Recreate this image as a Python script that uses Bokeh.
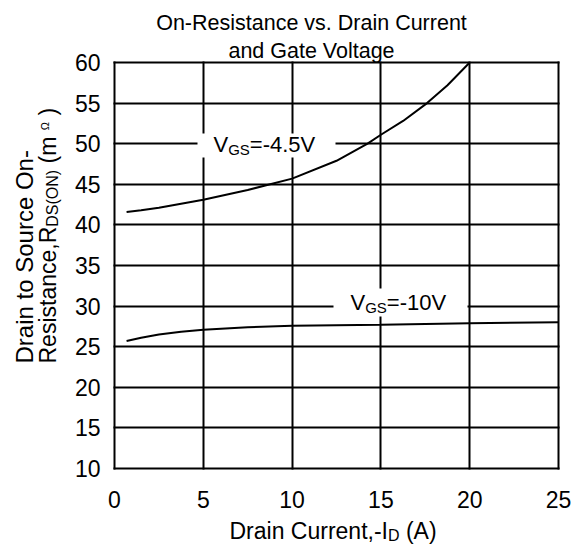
import math
from bokeh.plotting import figure
from bokeh.models import Range1d, FixedTicker, Label, BoxAnnotation
from bokeh.embed import file_html
from bokeh.resources import INLINE

# ---------------- data ----------------
TITLE_LINES = ["On-Resistance vs. Drain Current", "and Gate Voltage"]
X_TICKS = [0, 5, 10, 15, 20, 25]
Y_TICKS = [10, 15, 20, 25, 30, 35, 40, 45, 50, 55, 60]

ID_45 = [0.68, 1.5, 2.5, 5.0, 7.5, 10.0, 12.5, 14.25, 15.0, 16.25, 17.6, 18.75, 20.0]
R_45 = [41.6, 41.8, 42.1, 43.1, 44.3, 45.7, 47.9, 50.0, 51.1, 52.8, 55.0, 57.2, 60.0]

ID_10 = [0.68, 1.5, 2.5, 3.75, 5.0, 7.5, 10.0, 15.0, 20.0, 25.0]
R_10 = [25.7, 26.1, 26.5, 26.85, 27.1, 27.4, 27.57, 27.7, 27.9, 28.0]

# ---------------- layout ----------------
X0, X1, Y0, Y1 = 0, 25, 10, 60          # chart area
W, H = 572, 546                         # canvas
CL, CT, CR, CB = 114, 62, 558, 468      # chart box in canvas px
PX = (CR - CL) / (X1 - X0)              # px per x unit
PY = (CB - CT) / (Y1 - Y0)              # px per y unit
FONT = "Liberation Sans"

def dx(px):  # canvas px -> data x
    return X0 + (px - CL) / PX

def dy(py):  # canvas px -> data y
    return Y1 - (py - CT) / PY

CW = {' ': 278, '(': 333, ')': 333, ',': 278, '-': 333, '.': 278, '=': 584,
      'A': 667, 'C': 722, 'D': 722, 'G': 778, 'I': 278, 'N': 722, 'O': 778,
      'R': 722, 'S': 667, 'V': 667, 'a': 556, 'c': 500, 'e': 556, 'i': 222,
      'm': 833, 'n': 556, 'r': 333, 's': 500, 't': 278, 'u': 556, 'Ω': 768,
      'o': 556, 'l': 222, 'g': 556, 'd': 556, 'v': 500}

def tw(s, size):
    return sum(CW.get(c, 556) for c in s) / 1000.0 * size

p = figure(width=W, height=H, output_backend="svg", toolbar_location=None,
           x_range=Range1d(dx(0), dx(W)), y_range=Range1d(dy(H), dy(0)),
           min_border=0, background_fill_color="white", border_fill_color="white")

p.outline_line_color = None
p.xaxis.visible = False
p.yaxis.visible = False

xg, yg = p.xgrid[0], p.ygrid[0]
if "cross_bounds" in xg.properties():
    xg.ticker = FixedTicker(ticks=X_TICKS)
    yg.ticker = FixedTicker(ticks=Y_TICKS)
    xg.cross_bounds = (Y0, Y1)
    yg.cross_bounds = (X0, X1)
    for g in (xg, yg):
        g.grid_line_color = "black"
        g.grid_line_width = 2
        g.grid_line_alpha = 1.0
        g.grid_line_cap = "square"
else:
    xg.visible = False
    yg.visible = False
    p.segment(x0=X_TICKS, x1=X_TICKS, y0=[Y0] * len(X_TICKS), y1=[Y1] * len(X_TICKS),
              line_color="black", line_width=2, line_cap="square")
    p.segment(x0=[X0] * len(Y_TICKS), x1=[X1] * len(Y_TICKS), y0=Y_TICKS, y1=Y_TICKS,
              line_color="black", line_width=2, line_cap="square")

# curves
p.line(ID_45, R_45, line_color="black", line_width=2)
p.line(ID_10, R_10, line_color="black", line_width=2)

def lab(text, x, y, size, align="left", angle=0.0):
    p.add_layout(Label(x=x, y=y, text=text, text_font=FONT, text_font_size=f"{size}px",
                       text_align=align, text_baseline="alphabetic", angle=angle,
                       text_color="black"))

def hcompose(pieces, x0, yc):
    cur = x0
    for text, size, shift in pieces:
        lead = len(text) - len(text.lstrip(" "))
        cur += tw(" " * lead, size)
        body = text.strip(" ")
        if body:
            lab(body, dx(cur), dy(yc + shift), size)
        cur += tw(text.lstrip(" "), size)

def vcompose(pieces, y0, xc):
    cur = y0
    for text, size, shift in pieces:
        lead = len(text) - len(text.lstrip(" "))
        cur -= tw(" " * lead, size)
        body = text.strip(" ")
        if body:
            lab(body, dx(xc + shift), dy(cur), size, angle=math.pi / 2)
        cur -= tw(text.lstrip(" "), size)

# title
lab(TITLE_LINES[0], dx(311), dy(22), 21.5, align="center")
lab(TITLE_LINES[1], dx(311), dy(50), 21.5, align="center")

# tick labels
TICK_FS = 23
for t in Y_TICKS:
    lab(str(t), dx(100), t, TICK_FS, align="right")
for t in X_TICKS:
    lab(str(t), t, dy(499), TICK_FS, align="center")

# x axis label
hcompose([("Drain Current,-I", 23, 0), ("D", 16, 5), (" (A)", 23, 0)], 229, 530)

# y axis label
vcompose([("Drain to Source On-", 24, 0)], 363, 24)
vcompose([("Resistance,R", 23, 0), ("DS(ON)", 16, 5), (" (m ", 23, 0),
          ("Ω", 11, -3), (" )", 23, 0)], 363, 47)

# curve labels with white boxes
p.add_layout(BoxAnnotation(left=dx(197), right=dx(335), top=dy(133), bottom=dy(157),
                           fill_color="white", fill_alpha=1.0, line_color=None))
p.add_layout(BoxAnnotation(left=dx(333), right=dx(467), top=dy(288), bottom=dy(316),
                           fill_color="white", fill_alpha=1.0, line_color=None))
hcompose([("V", 22, 0), ("GS", 15, 5.5), ("=-4.5V", 22, 0)], 213, 143.5)
hcompose([("V", 22, 0), ("GS", 15, 5.5), ("=-10V", 22, 0)], 350, 301.5)

open("out.html", "w").write(file_html(p, INLINE))
